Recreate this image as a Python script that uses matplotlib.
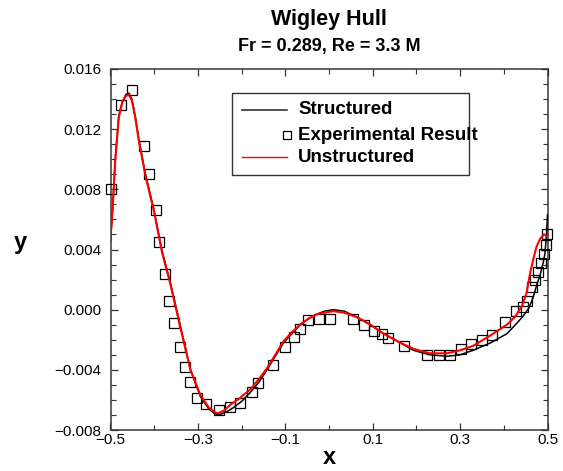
import matplotlib
matplotlib.use("Agg")
import matplotlib.pyplot as plt
from matplotlib.ticker import MultipleLocator, FuncFormatter
from matplotlib.patches import Rectangle

plt.rcParams['font.family'] = ['Liberation Sans', 'DejaVu Sans']

# ---- data -----------------------------------------------------------
x_exp = [-0.498, -0.477, -0.451, -0.424, -0.413, -0.395, -0.390, -0.375, -0.367,
         -0.355, -0.340, -0.330, -0.317, -0.302, -0.282, -0.252, -0.226, -0.203,
         -0.176, -0.163, -0.128, -0.100, -0.081, -0.067, -0.047, -0.024, 0.003,
         0.054, 0.081, 0.103, 0.121, 0.135, 0.172, 0.224, 0.251, 0.276, 0.302,
         0.324, 0.350, 0.372, 0.403, 0.428, 0.445, 0.452, 0.464, 0.471, 0.479,
         0.485, 0.491, 0.496, 0.498]
y_exp = [0.0080, 0.0136, 0.0146, 0.0109, 0.0090, 0.0066, 0.0045, 0.0024, 0.0006,
         -0.0009, -0.0025, -0.0038, -0.0048, -0.0059, -0.0063, -0.0067, -0.0065, -0.0062,
         -0.0055, -0.0049, -0.0037, -0.0025, -0.0018, -0.0013, -0.0007, -0.0006, -0.0006,
         -0.0006, -0.0010, -0.0014, -0.0016, -0.0019, -0.0024, -0.0030, -0.0030, -0.0030, -0.0026,
         -0.0023, -0.0020, -0.0017, -0.0008, -0.0001, 0.0002, 0.0006, 0.0015, 0.0020, 0.0025,
         0.0031, 0.0037, 0.0043, 0.0050]

x_struct = [-0.500, -0.495, -0.489, -0.481, -0.473, -0.465, -0.458, -0.451, -0.443,
            -0.435, -0.420, -0.401, -0.382, -0.363, -0.340, -0.317, -0.294, -0.275,
            -0.262, -0.252, -0.235, -0.218, -0.200, -0.180, -0.160, -0.142, -0.123,
            -0.104, -0.085, -0.066, -0.047, -0.028, -0.010, 0.010, 0.035, 0.064,
            0.095, 0.125, 0.163, 0.193, 0.230, 0.270, 0.300, 0.330, 0.370, 0.407,
            0.430, 0.445, 0.457, 0.467, 0.476, 0.484, 0.490, 0.494, 0.497, 0.499, 0.500]
y_struct = [0.0046, 0.0067, 0.0100, 0.0129, 0.0138, 0.0143, 0.0144, 0.0140, 0.0128,
            0.0113, 0.0090, 0.0067, 0.0039, 0.0018, -0.0011, -0.0040, -0.0058, -0.0066,
            -0.0069, -0.0070, -0.0068, -0.0065, -0.0061, -0.0055, -0.0048, -0.0040, -0.0031,
            -0.0022, -0.0016, -0.0010, -0.0006, -0.0003, -0.0001, 0.0000, -0.0001, -0.0005,
            -0.0010, -0.0016, -0.0022, -0.0027, -0.0030, -0.0031, -0.0030, -0.0027, -0.0022, -0.0016,
            -0.0009, -0.0004, 0.0001, 0.0008, 0.0017, 0.0024, 0.0031, 0.0037, 0.0047, 0.0057, 0.0063]

x_unstr = [-0.500, -0.495, -0.489, -0.481, -0.473, -0.465, -0.458, -0.451, -0.443,
           -0.435, -0.420, -0.401, -0.382, -0.363, -0.340, -0.317, -0.294, -0.275,
           -0.262, -0.254, -0.240, -0.225, -0.205, -0.180, -0.160, -0.142, -0.123,
           -0.104, -0.085, -0.066, -0.047, -0.028, -0.010, 0.010, 0.035, 0.064,
           0.095, 0.125, 0.163, 0.193, 0.230, 0.270, 0.300, 0.330, 0.370, 0.407,
           0.425, 0.441, 0.452, 0.460, 0.467, 0.475, 0.483, 0.492, 0.500]
y_unstr = [0.0047, 0.0068, 0.0100, 0.0128, 0.0138, 0.0142, 0.0143, 0.0139, 0.0127,
           0.0112, 0.0089, 0.0066, 0.0038, 0.0017, -0.0012, -0.0040, -0.0057, -0.0065,
           -0.0068, -0.0069, -0.0067, -0.0063, -0.0059, -0.0053, -0.0046, -0.0039, -0.0030,
           -0.0021, -0.0015, -0.0010, -0.0006, -0.0003, -0.0002, -0.0001, -0.0002, -0.0005,
           -0.0010, -0.0016, -0.0022, -0.0026, -0.0029, -0.0029, -0.0027, -0.0024, -0.0017, -0.0010,
           -0.0005, 0.0002, 0.0011, 0.0024, 0.0033, 0.0042, 0.0047, 0.0050, 0.0049]

legend_labels = ["Structured", "Experimental Result", "Unstructured"]
title = "Wigley Hull"
subtitle = "Fr = 0.289, Re = 3.3 M"

# ---- figure ---------------------------------------------------------
W, H = 563, 471
fig = plt.figure(figsize=(W / 100, H / 100), dpi=100)
L, R, T, B = 110.5, 547.5, 69, 430
ax = fig.add_axes([L / W, 1 - B / H, (R - L) / W, (B - T) / H])

ax.plot(x_exp, y_exp, linestyle='none', marker='s', markersize=7.6,
        markerfacecolor='none', markeredgecolor='black', markeredgewidth=0.9,
        zorder=2, clip_on=False)
ax.plot(x_struct, y_struct, color='black', lw=1.1, zorder=3)
ax.plot(x_unstr, y_unstr, color='#ff0000', lw=1.5, zorder=4)

ax.set_xlim(-0.5, 0.5)
ax.set_ylim(-0.008, 0.016)

ax.xaxis.set_major_locator(MultipleLocator(0.2, offset=0.1))
ax.xaxis.set_minor_locator(MultipleLocator(0.1))
ax.yaxis.set_major_locator(MultipleLocator(0.004))
ax.yaxis.set_minor_locator(MultipleLocator(0.001))


def fmt(dec):
    def f(v, pos):
        s = f"{v:.{dec}f}"
        if float(s) == 0:
            s = s.lstrip('-')
        return s.replace('-', '\u2212')
    return FuncFormatter(f)


ax.xaxis.set_major_formatter(fmt(1))
ax.yaxis.set_major_formatter(fmt(3))

ax.tick_params(which='both', direction='in', top=True, right=True,
               labelsize=11, colors='#333333', labelcolor='black')
ax.tick_params(axis='y', which='major', length=5, width=0.9, pad=6.5)
ax.tick_params(axis='x', which='major', length=5, width=0.9, pad=2.5)
ax.tick_params(which='minor', length=3.5, width=0.8)
for s in ax.spines.values():
    s.set_color('#555555')
    s.set_linewidth(1.3)
    s.set_zorder(1)

# titles and axis labels
cx = (L + R) / 2 / W
fig.text(cx, 1 - 20 / H, title, ha='center', va='center', fontsize=15.5, fontweight='bold')
fig.text(cx, 1 - 47 / H, subtitle, ha='center', va='center', fontsize=13, fontweight='bold')
fig.text(cx, 1 - 457 / H, 'x', ha='center', va='center', fontsize=17, fontweight='bold')
fig.text(20 / W, 1 - 242 / H, 'y', ha='center', va='center', fontsize=17, fontweight='bold')

# legend (drawn in axes fraction coordinates)
def ax_xy(px, py):
    return (px - L) / (R - L), (B - py) / (B - T)

x0, y0 = ax_xy(232, 175)
x1, y1 = ax_xy(469, 93)
ax.add_patch(Rectangle((x0, y0), x1 - x0, y1 - y0, transform=ax.transAxes,
                       facecolor='white', edgecolor='#333333', lw=1.0, zorder=5))
rows = [110, 135, 157]
for i, (lab, py) in enumerate(zip(legend_labels, rows)):
    hx0, hy = ax_xy(242, py)
    hx1, _ = ax_xy(287, py)
    if i == 0:
        ax.plot([hx0, hx1], [hy, hy], transform=ax.transAxes, color='#333333', lw=1.2, zorder=6, clip_on=False)
    elif i == 1:
        ax.plot([hx1 - 0.001], [hy], transform=ax.transAxes, marker='s', markersize=5.8,
                markerfacecolor='none', markeredgecolor='black', markeredgewidth=0.9,
                linestyle='none', zorder=6, clip_on=False)
    else:
        ax.plot([hx0, hx1], [hy, hy], transform=ax.transAxes, color='#ff0000', lw=1.0, zorder=6, clip_on=False)
    tx, ty = ax_xy(298, py)
    ax.text(tx, ty, lab, transform=ax.transAxes, ha='left', va='center',
            fontsize=13.5, fontweight='bold', zorder=7)

fig.savefig('out.png', dpi=100)
